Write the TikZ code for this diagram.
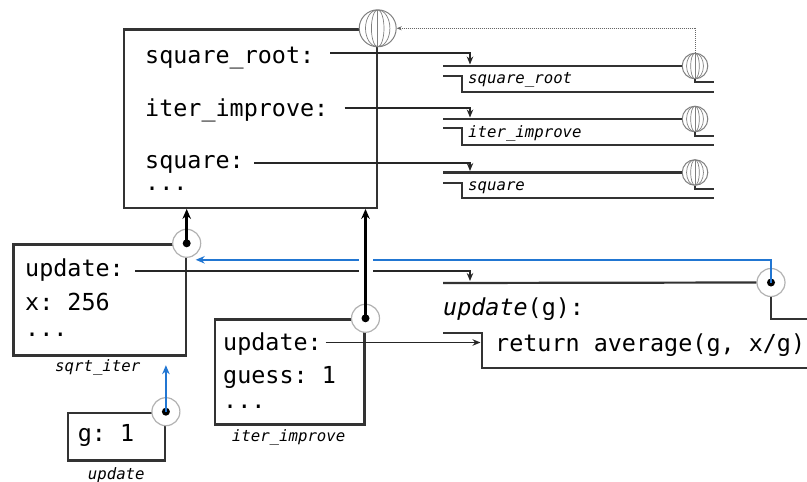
\documentclass[tikz,border=0pt]{standalone}
\usepackage{fontspec}
\setmonofont{DejaVu Sans Mono}
\usepackage{tikz}
\usetikzlibrary{arrows.meta}

\definecolor{envblue}{RGB}{33,118,210}
\newcommand{\codefont}{\ttfamily\fontsize{23.4pt}{28pt}\selectfont}
\newcommand{\tagfont}{\ttfamily\itshape\fontsize{15.7pt}{19pt}\selectfont}

\tikzset{
  wire/.style={draw=black!80, line width=2.2pt},
  ptr/.style={draw=black!85, line width=1.9pt, -{Stealth[length=8pt, width=6.5pt]}},
  envbox/.style={wire, rectangle, inner sep=0pt, anchor=north west},
  code/.style={font=\codefont, inner sep=0pt, anchor=base west},
  tag/.style={font=\tagfont, inner sep=0pt, anchor=base west},
  globe/.style={circle, draw=black!50, fill=white, line width=1pt, minimum size=#1, inner sep=0pt,
    path picture={
      \draw[black!50, line width=0.7pt] (path picture bounding box.center)
        ellipse [x radius=0.17*#1, y radius=0.5*#1]
        ellipse [x radius=0.33*#1, y radius=0.5*#1];
      \draw[black!50, line width=0.7pt] (path picture bounding box.north) -- (path picture bounding box.south);
    }},
  pdot/.style={circle, draw=black!30, fill=white, line width=1.2pt, minimum size=28pt, inner sep=0pt,
    path picture={\fill[black] (path picture bounding box.center) circle [radius=4pt];}},
  parent/.style={draw=black, line width=2.8pt, -{Stealth[length=10pt, width=8.5pt]}},
  bluelink/.style={draw=envblue, line width=2.4pt, -{Stealth[length=9pt, width=7.5pt]}}
}

\begin{document}
\begin{tikzpicture}[x=1pt, y=-1pt]

  \useasboundingbox (0,0) rectangle (807,482);

  \begin{scope}

  % global frame
  \draw (123,28.3) node[envbox, minimum width=252.5pt, minimum height=178.4pt, name=glob] {};
  \draw (glob.north east) node[globe=37pt, name=gG] {};

  \draw (145,63) node[code, name=vsr] {square\_root:};
  \draw (145,116.7) node[code, name=vii] {iter\_improve:};
  \draw (145,168.3) node[code, name=vsq] {square:};
  \draw (145,190) node[code, name=vdots] {...};

  % function objects
  \draw (695,66) node[globe=25.6pt, name=gsr] {};
  \draw (695,119) node[globe=25.6pt, name=gii] {};
  \draw (695,172.5) node[globe=25.6pt, name=gsq] {};

  \draw[wire] (443,66) -- (gsr.west);
  \draw[wire] (443,76) -| (462,91.7) -- (714,91.7);
  \draw[wire] (gsr.south) |- (714,82);
  \draw (468,83.3) node[tag, name=tsr] {square\_root};

  \draw[wire] (443,119) -- (gii.west);
  \draw[wire] (443,128) -| (462,145) -- (714,145);
  \draw[wire] (gii.south) |- (714,136);
  \draw (468,137.7) node[tag, name=tii] {iter\_improve};

  \draw[wire] (443,172.5) -- (gsq.west);
  \draw[wire] (443,182.7) -| (462,198.3) -- (714,198.3);
  \draw[wire] (gsq.south) |- (714,189.3);
  \draw (468,190.7) node[tag, name=tsq] {square};

  \coordinate (insr) at (470,64.5);
  \coordinate (inii) at (470,117.5);
  \coordinate (insq) at (470,171);

  \draw[ptr] ([shift={(16pt,9.7pt)}]vsr.base east) -| (insr);
  \draw[ptr] ([shift={(16pt,8.4pt)}]vii.base east) -| (inii);
  \draw[ptr] ([shift={(10pt,5.6pt)}]vsq.base east) -| (insq);

  \draw[densely dotted, black!60, line width=1pt, -{Stealth[length=5pt, width=4pt]}] (gsr.north) |- (gG.east);

  % sqrt_iter frame
  \draw (12.3,243.3) node[envbox, minimum width=172.2pt, minimum height=111pt, name=fsqrt] {};
  \draw (fsqrt.north east) node[pdot, name=p1] {};
  \draw (25,276) node[code, name=su] {update:};
  \draw (25,310) node[code, name=sx] {x: 256};
  \draw (25,336) node[code, name=sdots] {...};
  \draw (55,371.7) node[tag, name=tsqrt] {sqrt\_iter};

  % iter_improve frame
  \draw (214,318.3) node[envbox, minimum width=149.3pt, minimum height=105pt, name=fiter] {};
  \draw (fiter.north east) node[pdot, name=p2] {};
  \draw (223,350.5) node[code, name=iu] {update:};
  \draw (223,383) node[code, name=ig] {guess: 1};
  \draw (223,408) node[code, name=idots] {...};
  \draw (231.7,441.7) node[tag, name=titer] {iter\_improve};

  % update frame
  \draw (66.7,411.7) node[envbox, minimum width=97pt, minimum height=47.6pt, name=fupd] {};
  \draw (fupd.north east) node[pdot, name=p3] {};
  \draw (77.7,441.7) node[code, name=ug] {g: 1};
  \draw (87.7,479.3) node[tag, name=tupd] {update};

  % update function
  \draw (771,282.5) node[pdot, name=p4] {};
  \draw[wire] (443,283) -- (p4.west);
  \draw[wire] (443,333.3) -| (481.7,368.3) -- (807,368.3);
  \draw[wire] (p4.south) |- (807,318.7);
  \draw (443,315.7) node[code, name=fhead] {\textit{update}(g):};
  \draw (495,351) node[code, name=fbody] {return average(g, x/g)};

  \coordinate (inupd) at (470,281);
  \coordinate (inbody) at (480.5,342.5);

  \draw[ptr] ([shift={(11.3pt,5pt)}]su.base east) -| (inupd);
  \draw[ptr] ([shift={(3.5pt,8pt)}]iu.base east) -- (inbody);

  % parents
  \draw[bluelink] (p4.center) |- ([shift={(9pt,-16.5pt)}]p1.center);
  \draw[bluelink] (p3.center) -- ([yshift=-8.7pt]p3.center |- fsqrt.south);
  \draw[parent] (p1.center) -- (p1.center |- glob.south);
  \draw[parent, preaction={draw=white, line width=14pt, -, shorten <=30pt, shorten >=40pt}] (p2.center) -- (p2.center |- glob.south);

  \end{scope}

\end{tikzpicture}
\end{document}
